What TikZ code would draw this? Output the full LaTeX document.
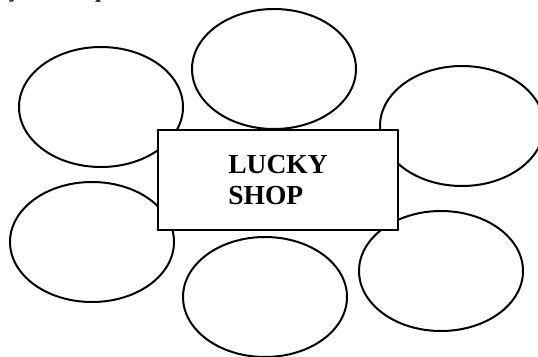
\documentclass[tikz,border=0pt]{standalone}
\usepackage{fontspec}
\setmainfont{Liberation Serif}
\usetikzlibrary{shapes.geometric}

\begin{document}
\begin{tikzpicture}[x=1pt,y=-1pt,every node/.style={font=\bfseries}]
\tikzset{blob/.style={draw,ellipse,line width=2pt,minimum width=164pt,minimum height=120pt,inner sep=0pt},
  shopbox/.style={draw,fill=white,line width=2pt,minimum width=240pt,minimum height=100pt,align=left,
    font=\bfseries\fontsize{27.5}{31}\selectfont}}
\useasboundingbox (0,0) rectangle (538,356);
% cut-off heading above the picture
\begin{scope}
\clip (0,0) rectangle (538,356);
\node[anchor=base west,inner sep=0pt,font=\bfseries\fontsize{22}{26}\selectfont] (hy) at (9,-2.2) {y};
\node[anchor=base west,inner sep=0pt,font=\bfseries\fontsize{22}{26}\selectfont] (hp) at (95,-2.2) {p};
\end{scope}
% ovals round the shop
\node[blob] (e1) at (101,107) {};
\node[blob] (e2) at (274,69) {};
\node[blob] (e3) at (462,126) {};
\node[blob] (e4) at (92,242) {};
\node[blob] (e5) at (265,297) {};
\node[blob] (e6) at (441,271) {};
\node[shopbox] (shop) at (278,180) {LUCKY\\SHOP};
\end{tikzpicture}
\end{document}
